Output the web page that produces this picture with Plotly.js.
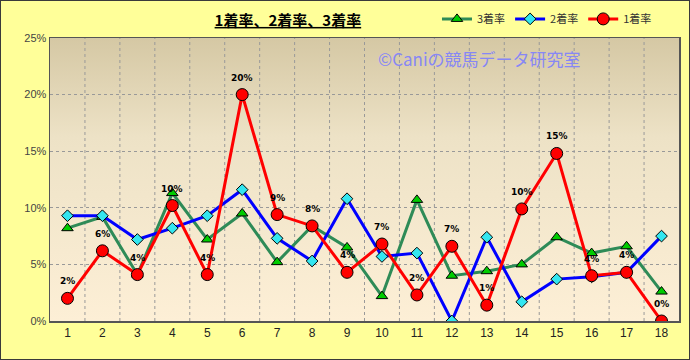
<!DOCTYPE html>
<html><head><meta charset="utf-8">
<script src="https://cdn.plot.ly/plotly-3.0.1.min.js"></script>
<style>html,body{margin:0;padding:0;background:#fff}#c{width:688px;height:358px;border:1px solid #3a3a3a}</style>
</head><body><div id="c"></div>
<script>
const categories = ['1','2','3','4','5','6','7','8','9','10','11','12','13','14','15','16','17','18'];
const win   = [2.0,6.2,4.1,10.2,4.1,20.0,9.4,8.4,4.3,6.8,2.3,6.6,1.4,9.9,14.8,4.0,4.3,0.0];
const place2= [9.3,9.3,7.2,8.2,9.3,11.6,7.3,5.3,10.8,5.7,6.0,0.0,7.4,1.7,3.7,3.9,4.3,7.5];
const place3= [8.2,9.2,4.1,11.3,7.2,9.5,5.2,8.4,6.5,2.2,10.7,4.0,4.4,5.0,7.4,6.0,6.6,2.6];
const winLabels = ['2%','6%','4%','10%','4%','20%','9%','8%','4%','7%','2%','7%','1%','10%','15%','4%','4%','0%'];
const yTickVals = [0,5,10,15,20,25];
const yTickText = ['0%','5%','10%','15%','20%','25%'];

const traces = [
 {x:categories,y:place3,name:'3着率',mode:'lines+markers',line:{color:'#2e8b57',width:3},
  marker:{symbol:'triangle-up',size:10,color:'#00cc00',line:{color:'#000',width:1}}},
 {x:categories,y:place2,name:'2着率',mode:'lines+markers',line:{color:'#0000ff',width:3},
  marker:{symbol:'diamond',size:9,color:'#33e6f0',line:{color:'#000',width:1}}},
 {x:categories,y:win,name:'1着率',mode:'lines+markers',line:{color:'#ff0000',width:3},
  marker:{symbol:'circle',size:12,color:'#ff0000',line:{color:'#000',width:1}}}
];

const annotations = categories.map((c,i)=>({xref:'x',yref:'y',x:i,y:win[i],text:'<b>'+winLabels[i]+'</b>',showarrow:false,
  yshift:17,font:{family:'DejaVu Sans',size:9,color:'#000'}}));
annotations.push({xref:'paper',yref:'paper',x:0.683,xanchor:'center',y:0.926,yanchor:'middle',text:'©Caniの競馬データ研究室',showarrow:false,
  font:{family:'Noto Sans CJK JP',size:17,color:'rgb(135,135,245)'}});

const grad = 'data:image/svg+xml;charset=utf-8,' + encodeURIComponent(
 '<svg xmlns="http://www.w3.org/2000/svg" width="100" height="100" preserveAspectRatio="none"><defs><linearGradient id="g" x1="0" y1="0" x2="0" y2="1"><stop offset="0" stop-color="#d5c8a4"/><stop offset="0.35" stop-color="#ede2c6"/><stop offset="1" stop-color="#fdefd6"/></linearGradient></defs><rect width="100" height="100" fill="url(#g)"/></svg>');

const layout = {
 width:688,height:358,
 paper_bgcolor:'#ffff99',plot_bgcolor:'rgba(0,0,0,0)',
 margin:{l:49,r:10,t:37,b:38,autoexpand:false},
 font:{family:'Liberation Sans',color:'#222'},
 title:{text:'<b><u>1着率、2着率、3着率</u></b>',x:0.417,xanchor:'center',y:0.945,yanchor:'middle',
  font:{family:'Noto Sans CJK JP',size:15,color:'#000'}},
 showlegend:true,
 legend:{orientation:'h',x:0.965,xanchor:'right',yref:'container',y:0.95,yanchor:'middle',bgcolor:'rgba(0,0,0,0)',
  font:{family:'Noto Sans CJK JP',size:11,color:'#333'},traceorder:'normal',itemwidth:30,tracegroupgap:0},
 xaxis:{type:'category',range:[-0.5,17.5],showgrid:false,ticks:'',
  tickfont:{size:12,color:'#222'},showline:true,linecolor:'#555',linewidth:1.5,mirror:true,zeroline:false},
 yaxis:{range:[0,25],tickvals:yTickVals,ticktext:yTickText,showgrid:true,gridcolor:'#999',griddash:'dot',gridwidth:1,
  tickfont:{size:11,color:'#444'},showline:true,linecolor:'#555',linewidth:1.5,mirror:true,zeroline:false,ticks:''},
 images:[{source:grad,xref:'paper',yref:'paper',x:0,y:1,sizex:1,sizey:1,sizing:'stretch',layer:'below'}],
 shapes: categories.slice(1).map((c,i)=>({type:'line',xref:'x',yref:'paper',x0:i+0.5,x1:i+0.5,y0:0,y1:1,
  layer:'below',line:{color:'#999',width:1,dash:'dot'}})),
 annotations:annotations
};
Plotly.newPlot('c',traces,layout,{displayModeBar:false,staticPlot:true});
</script></body></html>
